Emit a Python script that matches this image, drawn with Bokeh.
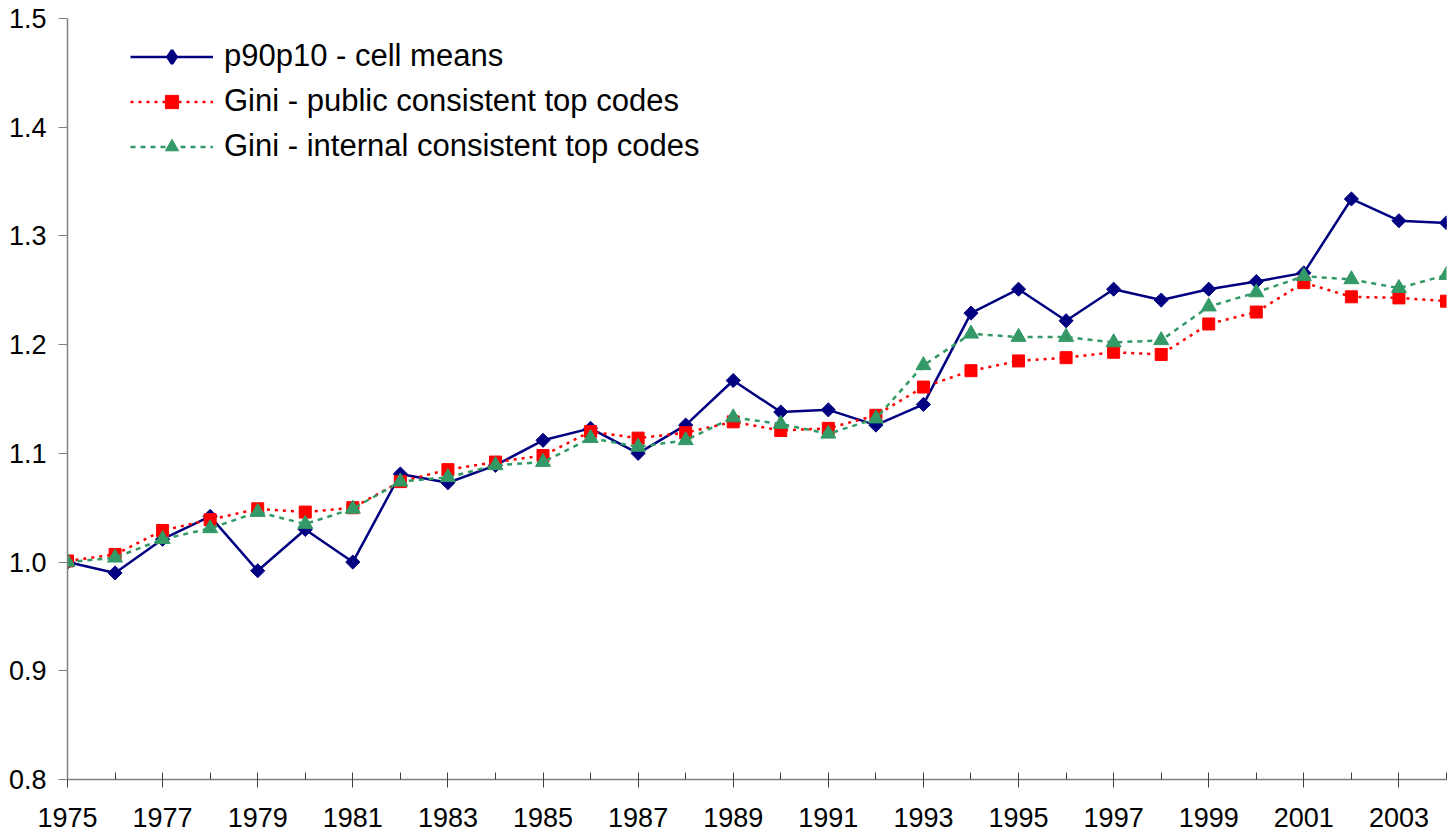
import math
from bokeh.plotting import figure
from bokeh.models import FixedTicker, Range1d, Legend, LegendItem, CustomJSTickFormatter
from bokeh.embed import file_html
from bokeh.resources import INLINE

years = list(range(1975, 2005))
p90p10 = [1.000, 0.990, 1.021, 1.042, 0.992, 1.030, 1.000, 1.081, 1.073, 1.089,
          1.112, 1.123, 1.100, 1.126, 1.167, 1.138, 1.140, 1.126, 1.145, 1.229,
          1.251, 1.222, 1.251, 1.241, 1.251, 1.258, 1.266, 1.334, 1.314, 1.312]
gini_public = [1.001, 1.007, 1.029, 1.039, 1.049, 1.046, 1.050, 1.074, 1.085, 1.092,
               1.098, 1.120, 1.114, 1.119, 1.129, 1.121, 1.123, 1.135, 1.161, 1.176,
               1.185, 1.188, 1.193, 1.191, 1.219, 1.230, 1.257, 1.244, 1.243, 1.240]
gini_internal = [1.000, 1.004, 1.021, 1.031, 1.046, 1.035, 1.049, 1.074, 1.078, 1.089,
                 1.092, 1.114, 1.106, 1.112, 1.133, 1.127, 1.118, 1.132, 1.181, 1.210,
                 1.207, 1.207, 1.202, 1.204, 1.235, 1.248, 1.263, 1.260, 1.252, 1.264]
y_ticks = [0.8, 0.9, 1.0, 1.1, 1.2, 1.3, 1.4, 1.5]
x_major = list(range(1975, 2005, 2))
x_minor = list(range(1976, 2005, 2))

p = figure(width=1448, height=836, output_backend="svg", toolbar_location=None,
           x_range=Range1d(1975, 2004), y_range=Range1d(0.8, 1.5),
           min_border_left=67, min_border_right=2, min_border_top=18, min_border_bottom=57)
p.outline_line_color = None
p.xgrid.visible = False
p.ygrid.visible = False

FONT = "Liberation Sans"

l1 = p.line(years, p90p10, line_color="#000080", line_width=2.5)
# small diamond under the rotated squares; used for the legend glyph
m1_leg = p.scatter(years, p90p10, marker="diamond", size=8,
                   fill_color="#000080", line_color="#000080", line_width=3)
m1 = p.scatter(years, p90p10, marker="square", angle=math.pi / 4, size=10,
               fill_color="#000080", line_color="#000080")
l2 = p.line(years, gini_public, line_color="#FF0000", line_width=2.5, line_dash="3 5")
m2 = p.scatter(years, gini_public, marker="square", size=12,
               fill_color="#FF0000", line_color="#FF0000")
l3 = p.line(years, gini_internal, line_color="#339966", line_width=2.5, line_dash="5 5")
m3 = p.scatter(years, gini_internal, marker="triangle", size=15,
               fill_color="#339966", line_color="#339966")

legend = Legend(items=[
    LegendItem(label="p90p10 - cell means", renderers=[l1, m1_leg]),
    LegendItem(label="Gini - public consistent top codes", renderers=[l2, m2]),
    LegendItem(label="Gini - internal consistent top codes", renderers=[l3, m3]),
], location=(63, 615))
legend.border_line_color = None
legend.background_fill_alpha = 0
legend.padding = 5
legend.margin = 0
legend.spacing = 9
legend.glyph_width = 83
legend.glyph_height = 33
legend.label_height = 30
legend.label_standoff = 11
legend.label_text_font = FONT
legend.label_text_font_size = "31px"
legend.label_text_color = "black"
legend.label_text_baseline = "middle"
p.add_layout(legend)

xa = p.xaxis[0]
xa.ticker = FixedTicker(ticks=x_major, minor_ticks=x_minor)
xa.axis_line_color = "#808080"
xa.axis_line_width = 1.5
xa.major_tick_line_color = "#404040"
xa.minor_tick_line_color = "#404040"
xa.major_tick_in = 7
xa.major_tick_out = 8
xa.minor_tick_in = 7
xa.minor_tick_out = 0
xa.major_label_text_font = FONT
xa.major_label_text_font_size = "27px"
xa.major_label_text_color = "black"
xa.major_label_standoff = 20

ya = p.yaxis[0]
ya.ticker = FixedTicker(ticks=y_ticks)
ya.axis_line_color = "#808080"
ya.axis_line_width = 1.5
ya.major_tick_line_color = "#808080"
ya.major_tick_in = 0
ya.major_tick_out = 9
ya.minor_tick_line_color = None
ya.major_label_text_font = FONT
ya.major_label_text_font_size = "27px"
ya.major_label_text_color = "black"
ya.major_label_standoff = 12
ya.formatter = CustomJSTickFormatter(code="return tick.toFixed(1);")

open("out.html", "w").write(file_html(p, INLINE))
